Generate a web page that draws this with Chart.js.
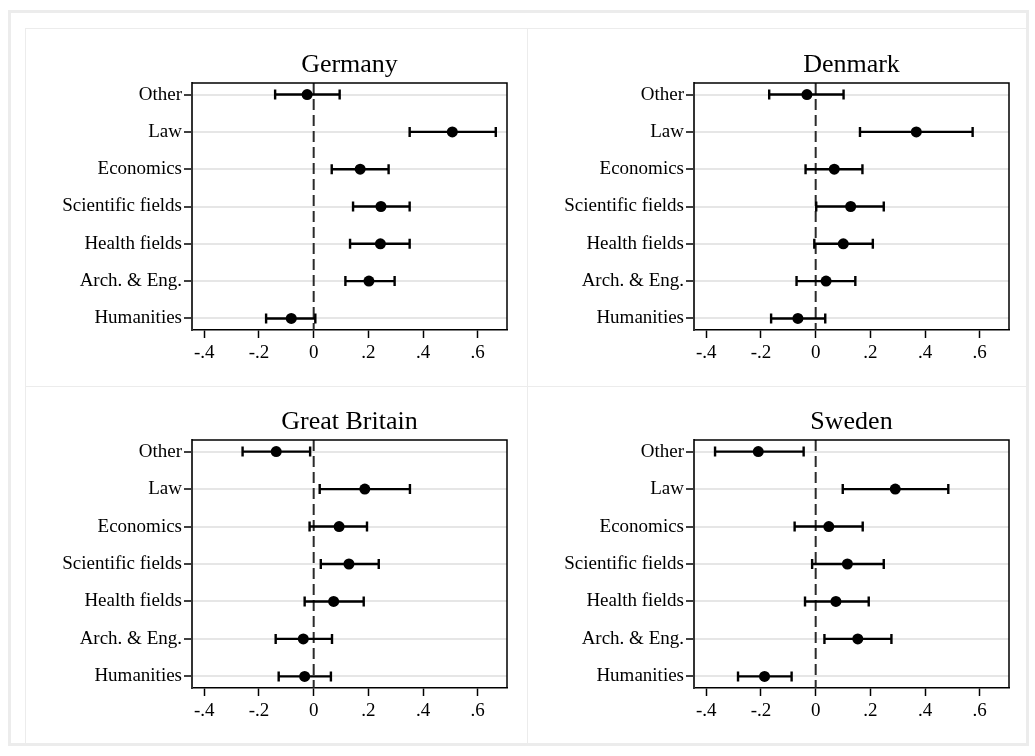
<!DOCTYPE html>
<html><head><meta charset="utf-8">
<script src="https://cdn.jsdelivr.net/npm/chart.js@4.4.1/dist/chart.umd.min.js"></script>
<style>
body{margin:0;background:#fff;width:1035px;height:756px;position:relative;overflow:hidden}
#outer{position:absolute;left:8px;top:10px;width:1021px;height:736px;border:3px solid #ececec;box-sizing:border-box}
.ln{position:absolute;background:#ececec}
canvas{position:absolute}
</style></head><body>
<div id="outer"></div>
<div class="ln" style="left:25px;top:28px;width:1px;height:716px"></div>
<div class="ln" style="left:25px;top:28px;width:1002px;height:1px"></div>
<div class="ln" style="left:527px;top:28px;width:1px;height:716px"></div>
<div class="ln" style="left:25px;top:386px;width:1002px;height:1px"></div>
<canvas id="c0" width="502" height="358" style="left:25px;top:28px"></canvas>
<canvas id="c1" width="502" height="358" style="left:527px;top:28px"></canvas>
<canvas id="c2" width="502" height="358" style="left:25px;top:386px"></canvas>
<canvas id="c3" width="502" height="358" style="left:527px;top:386px"></canvas>
<script>
const categories = ["Other","Law","Economics","Scientific fields","Health fields","Arch. & Eng.","Humanities"];
const xTicks = [-0.4,-0.2,0,0.2,0.4,0.6];
const xTickLabels = ["-.4","-.2","0",".2",".4",".6"];
const zeroRef = 0;

const germanyEst = [-0.024, 0.507, 0.170, 0.246, 0.244, 0.202, -0.082];
const germanyLo  = [-0.141, 0.351, 0.066, 0.144, 0.133, 0.116, -0.174];
const germanyHi  = [ 0.095, 0.666, 0.274, 0.351, 0.351, 0.296,  0.006];

const denmarkEst = [-0.032, 0.368, 0.068, 0.128, 0.101, 0.038, -0.065];
const denmarkLo  = [-0.170, 0.162,-0.037, 0.002,-0.005,-0.070, -0.163];
const denmarkHi  = [ 0.102, 0.574, 0.171, 0.249, 0.209, 0.145,  0.035];

const britainEst = [-0.137, 0.187, 0.093, 0.129, 0.073,-0.038, -0.033];
const britainLo  = [-0.260, 0.022,-0.015, 0.026,-0.033,-0.139, -0.128];
const britainHi  = [-0.013, 0.352, 0.195, 0.238, 0.183, 0.067,  0.063];

const swedenEst  = [-0.210, 0.291, 0.048, 0.116, 0.074, 0.154, -0.187];
const swedenLo   = [-0.368, 0.099,-0.077,-0.013,-0.039, 0.032, -0.284];
const swedenHi   = [-0.044, 0.485, 0.172, 0.249, 0.194, 0.277, -0.088];

const panels = [
  {id:"c0", title:"Germany", est:germanyEst, lo:germanyLo, hi:germanyHi, top:55},
  {id:"c1", title:"Denmark", est:denmarkEst, lo:denmarkLo, hi:denmarkHi, top:55},
  {id:"c2", title:"Great Britain", est:britainEst, lo:britainLo, hi:britainHi, top:54},
  {id:"c3", title:"Sweden", est:swedenEst, lo:swedenLo, hi:swedenHi, top:54}
];

const FONT = "'Liberation Serif','Times New Roman',serif";

const coefPlugin = {
  id:'coef',
  beforeDatasetsDraw(chart){
    const {ctx, chartArea:a, scales:{x,y}} = chart;
    const d = chart.options.plugins.coef;
    ctx.save();
    const zx = x.getPixelForValue(zeroRef);
    ctx.strokeStyle='#2a2a2a'; ctx.lineWidth=2; ctx.setLineDash([11,5]);
    ctx.beginPath(); ctx.moveTo(zx,a.top); ctx.lineTo(zx,a.bottom); ctx.stroke();
    ctx.setLineDash([]);
    ctx.strokeStyle='#000'; ctx.lineWidth=2.4;
    d.lo.forEach((lo,i)=>{
      const py=y.getPixelForValue(i+1);
      const x1=x.getPixelForValue(lo), x2=x.getPixelForValue(d.hi[i]);
      ctx.beginPath();
      ctx.moveTo(x1,py); ctx.lineTo(x2,py);
      ctx.moveTo(x1,py-5); ctx.lineTo(x1,py+5);
      ctx.moveTo(x2,py-5); ctx.lineTo(x2,py+5);
      ctx.stroke();
    });
    ctx.restore();
  },
  afterDraw(chart){
    const {ctx, chartArea:a} = chart;
    const d = chart.options.plugins.coef;
    ctx.save(); ctx.strokeStyle='#000'; ctx.lineWidth=1.5;
    ctx.beginPath(); ctx.moveTo(a.left,a.top); ctx.lineTo(a.right,a.top); ctx.lineTo(a.right,a.bottom); ctx.stroke();
    ctx.fillStyle='#000'; ctx.font="26px "+FONT; ctx.textAlign='center'; ctx.textBaseline='alphabetic';
    ctx.fillText(d.title,(a.left+a.right)/2,a.top-11);
    ctx.restore();
  }
};

panels.forEach(p=>{
  new Chart(document.getElementById(p.id), {
    type:'scatter',
    data:{datasets:[{
      data:p.est.map((v,i)=>({x:v,y:i+1})),
      pointRadius:5.5, pointHoverRadius:5.5, backgroundColor:'#000', borderWidth:0, showLine:false
    }]},
    options:{
      responsive:false, animation:false, devicePixelRatio:1,
      layout:{padding:{left:0,right:20,top:p.top,bottom:0}},
      plugins:{
        legend:{display:false}, tooltip:{enabled:false}, title:{display:false},
        coef:{lo:p.lo, hi:p.hi, title:p.title}
      },
      scales:{
        x:{type:'linear', min:-0.445, max:0.707,
          afterBuildTicks:s=>{s.ticks = xTicks.map(v=>({value:v}));},
          afterFit:s=>{s.height=56;},
          ticks:{callback:(v,i)=>xTickLabels[i], color:'#000', font:{family:FONT,size:19}, padding:4, maxRotation:0, autoSkip:false},
          grid:{drawOnChartArea:false, drawTicks:true, tickLength:8, tickColor:'#000', tickWidth:1.5},
          border:{display:true, color:'#000', width:1.5}
        },
        y:{type:'linear', reverse:true, min:0.69, max:7.31,
          afterBuildTicks:s=>{s.ticks = categories.map((c,i)=>({value:i+1}));},
          afterFit:s=>{s.width=167;},
          ticks:{callback:(v,i)=>categories[i], color:'#000', font:{family:FONT,size:19}, padding:2, autoSkip:false},
          grid:{color:'#e6e6e6', lineWidth:2, drawTicks:true, tickLength:8, tickColor:'#000', tickWidth:1.5},
          border:{display:true, color:'#333', width:2}
        }
      }
    },
    plugins:[coefPlugin]
  });
});
</script>
</body></html>
